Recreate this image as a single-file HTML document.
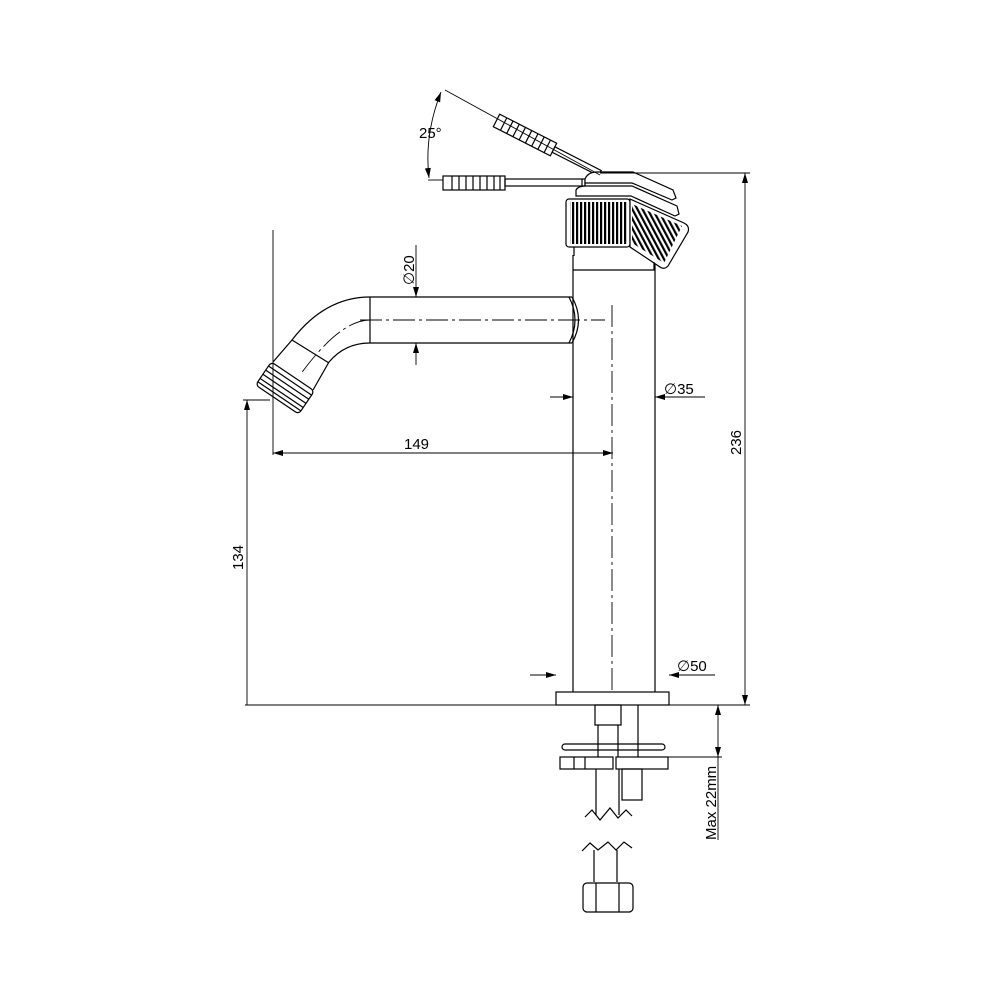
<!DOCTYPE html>
<html><head><style>html,body{margin:0;background:#fff}svg{display:block}text{font-family:"Liberation Sans","DejaVu Sans",sans-serif;font-size:15px;fill:#000}</style></head><body>
<svg width="1000" height="1000" viewBox="0 0 1000 1000" xmlns="http://www.w3.org/2000/svg">
<defs>
<marker id="a" viewBox="0 0 10 6" refX="10" refY="3" markerWidth="10" markerHeight="6" orient="auto-start-reverse" markerUnits="userSpaceOnUse"><path d="M0,0L10,3L0,6z" fill="#000"/></marker>
<pattern id="k" width="4" height="10" patternUnits="userSpaceOnUse"><rect width="4" height="10" fill="#fff"/><rect width="2.2" height="10" fill="#000"/></pattern>
<pattern id="k2" width="4.5" height="10" patternUnits="userSpaceOnUse" patternTransform="rotate(-28)"><rect width="4.5" height="10" fill="#fff"/><rect width="2.2" height="10" fill="#000"/></pattern>
</defs>
<g fill="none" stroke="#000" stroke-width="1.2">
<!-- body -->
<line x1="573" y1="255" x2="573" y2="692"/><line x1="655" y1="255" x2="655" y2="692"/>
<line x1="573" y1="270" x2="655" y2="270"/>
<rect x="556" y="692" width="113" height="13"/>
<!-- spout -->
<line x1="370" y1="297" x2="572" y2="297"/><line x1="370" y1="343" x2="572" y2="343"/>
<line x1="370" y1="297" x2="370" y2="343"/>
<path d="M572,297 Q585,320 572,343"/><path d="M569,297 Q581,320 569,343"/>
<path d="M370,297 Q325,297 292,340 L273,362"/>
<path d="M370,343 Q345,343 329,362 L313,390"/>
<line x1="292" y1="340" x2="329" y2="363"/>
<g transform="translate(285,388) rotate(34)">
<rect x="-26" y="-14" width="52" height="28" rx="4"/>
<line x1="-26" y1="-9" x2="26" y2="-9"/><line x1="-26" y1="-4" x2="26" y2="-4"/><line x1="-26" y1="1" x2="26" y2="1"/><line x1="-26" y1="6" x2="26" y2="6"/><line x1="-26" y1="10" x2="26" y2="10"/>
</g>
<!-- lever horizontal -->
<rect x="443" y="176" width="62" height="14"/>
<line x1="452" y1="176" x2="452" y2="190"/><line x1="459" y1="176" x2="459" y2="190"/><line x1="466" y1="176" x2="466" y2="190"/><line x1="473" y1="176" x2="473" y2="190"/><line x1="480" y1="176" x2="480" y2="190"/><line x1="487" y1="176" x2="487" y2="190"/><line x1="494" y1="176" x2="494" y2="190"/><line x1="500" y1="176" x2="500" y2="190"/>
<rect x="505" y="179" width="80" height="7"/>
<line x1="582" y1="179" x2="582" y2="190"/>
<!-- lever angled -->
<g transform="translate(525,135) rotate(27)">
<rect x="-32" y="-7" width="64" height="14"/>
<line x1="-24" y1="-7" x2="-24" y2="7"/><line x1="-17" y1="-7" x2="-17" y2="7"/><line x1="-10" y1="-7" x2="-10" y2="7"/><line x1="-3" y1="-7" x2="-3" y2="7"/><line x1="4" y1="-7" x2="4" y2="7"/><line x1="11" y1="-7" x2="11" y2="7"/><line x1="18" y1="-7" x2="18" y2="7"/><line x1="25" y1="-7" x2="25" y2="7"/>
<rect x="32" y="-3" width="52" height="6"/>
</g>
<!-- cap -->
<path d="M585,186 L585,179 Q588,172 597,172 L633,172 L673,190 L676,198 L672,200 L632,183 L585,183" fill="#fff"/>
<path d="M576,196 L576,190 Q578,186 586,186 L632,186 L677,206 L679,214 L675,216 L631,196 Z" fill="#fff"/>
<rect x="566" y="199" width="64" height="48" rx="3" fill="#fff"/>
<rect x="570" y="202" width="58" height="42" fill="url(#k)" stroke="none"/>
<path d="M630,199 L684,223 Q690,226 688,232 L668,266 Q664,270 660,267 L630,247 Z" fill="#fff"/>
<path d="M632,204 L682,226 L664,263 L632,243 Z" fill="url(#k2)" stroke="none"/>
<line x1="574" y1="247" x2="574" y2="256"/><line x1="654" y1="262" x2="654" y2="270"/>
<!-- below deck -->
<rect x="595" y="705" width="26" height="20"/>
<line x1="598" y1="725" x2="598" y2="757"/><line x1="618" y1="725" x2="618" y2="757"/><line x1="638" y1="705" x2="638" y2="757"/>
<rect x="562" y="744" width="103" height="6" rx="3"/>
<rect x="560" y="757" width="53" height="12"/><line x1="574" y1="757" x2="574" y2="769"/><line x1="585" y1="757" x2="585" y2="769"/>
<rect x="616" y="757" width="52" height="12"/>
<rect x="622" y="769" width="20" height="31"/>
<line x1="596" y1="769" x2="596" y2="815"/><line x1="619" y1="769" x2="619" y2="815"/>
<path d="M585,817 L592,810 L600,820 L610,808 L618,818 L626,810 L632,816"/>
<path d="M582,851 L590,843 L598,850 L608,842 L616,850 L624,842 L632,848"/>
<line x1="594" y1="850" x2="594" y2="882"/><line x1="617" y1="850" x2="617" y2="882"/>
<rect x="583" y="883" width="50" height="29" rx="4"/><line x1="596" y1="883" x2="596" y2="912"/><line x1="619" y1="883" x2="619" y2="912"/>
</g>
<!-- dimension lines -->
<g fill="none" stroke="#000" stroke-width="0.9">
<line x1="612" y1="305" x2="612" y2="690" stroke-dasharray="22,4,3,4"/>
<line x1="360" y1="320" x2="605" y2="320" stroke-dasharray="22,4,3,4"/>
<path d="M370,320 Q340,320 300,375" stroke-dasharray="22,4,3,4"/>
<line x1="273" y1="230" x2="273" y2="455"/>
<line x1="273" y1="453" x2="613" y2="453" marker-start="url(#a)" marker-end="url(#a)"/>
<line x1="416" y1="245" x2="416" y2="297" marker-end="url(#a)"/>
<line x1="416" y1="365" x2="416" y2="343" marker-end="url(#a)"/>
<line x1="550" y1="397" x2="573" y2="397" marker-end="url(#a)"/>
<line x1="705" y1="397" x2="655" y2="397" marker-end="url(#a)"/>
<line x1="530" y1="675" x2="556" y2="675" marker-end="url(#a)"/>
<line x1="715" y1="675" x2="669" y2="675" marker-end="url(#a)"/>
<line x1="243" y1="400" x2="270" y2="400"/>
<line x1="247" y1="705" x2="247" y2="400" marker-end="url(#a)"/>
<line x1="245" y1="705" x2="556" y2="705"/><line x1="669" y1="705" x2="750" y2="705"/>
<line x1="600" y1="173" x2="750" y2="173"/>
<line x1="745" y1="173" x2="745" y2="705" marker-start="url(#a)" marker-end="url(#a)"/>
<line x1="665" y1="757" x2="722" y2="757"/>
<line x1="718" y1="705" x2="718" y2="757" marker-start="url(#a)" marker-end="url(#a)"/>
<line x1="718" y1="757" x2="718" y2="840"/>
<line x1="428" y1="180" x2="443" y2="180"/>
<line x1="445" y1="90" x2="600" y2="175"/>
<path d="M441,92 Q424,135 429,178" marker-start="url(#a)" marker-end="url(#a)"/>
</g>
<text x="404" y="449">149</text>
<text x="664" y="394">∅35</text>
<text x="677" y="671">∅50</text>
<text x="419" y="138">25°</text>
<text transform="translate(414,285) rotate(-90)">∅20</text>
<text transform="translate(741,455) rotate(-90)">236</text>
<text transform="translate(243,570) rotate(-90)">134</text>
<text transform="translate(716,840) rotate(-90)">Max 22mm</text>
</svg>
</body></html>
